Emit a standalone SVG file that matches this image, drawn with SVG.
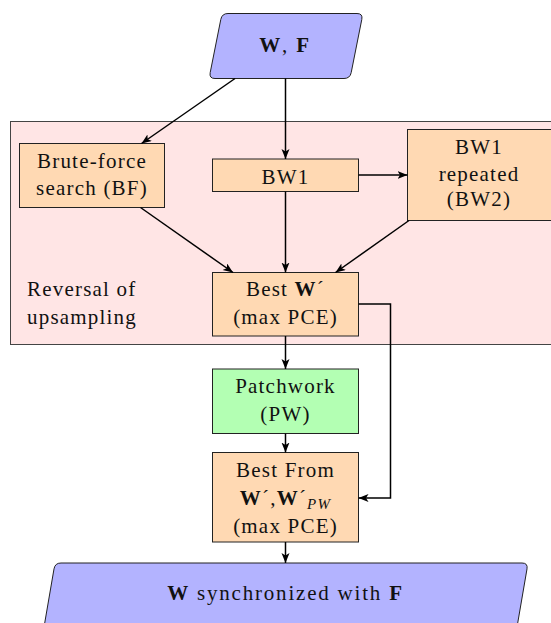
<svg xmlns="http://www.w3.org/2000/svg" width="551" height="623" viewBox="0 0 551 623">
<defs>
<marker id="arr" markerUnits="userSpaceOnUse" markerWidth="11" markerHeight="9" refX="10" refY="4" orient="auto">
<path d="M0,0 L10,4 L0,8 L2.5,4 z" fill="#000"/>
</marker>
<style>
text{font-family:'Liberation Serif','DejaVu Serif',serif;font-size:21px;letter-spacing:1.2px;fill:#111}
.c{text-anchor:middle}
.b{font-weight:bold}
.box{fill:#ffd9b3;stroke:#222;stroke-width:1}
.io{fill:#b3b3ff;stroke:#222;stroke-width:1}
.pw{fill:#b3ffb3;stroke:#222;stroke-width:1}
.ln{fill:none;stroke:#000;stroke-width:1.5}
.ar{marker-end:url(#arr)}
</style>
</defs>
<rect width="551" height="623" fill="#fff"/>
<g id="region">
<rect x="10.5" y="121.5" width="560" height="223" fill="#ffe5e5" stroke="#444" stroke-width="1"/>
<text x="27" y="296">Reversal of</text>
<text x="27" y="324">upsampling</text>
</g>
<g id="input">
<path class="io" d="M 228,13.5 L 357,13.5 Q 363,13.5 361.8,19.4 L 351.2,72.6 Q 350,78.5 344,78.5 L 215,78.5 Q 209,78.5 210.2,72.6 L 220.8,19.4 Q 222,13.5 228,13.5 Z"/>
<text class="c" x="285" y="52" style="letter-spacing:1.8px"><tspan class="b">W</tspan>, <tspan class="b">F</tspan></text>
</g>
<g id="bf">
<rect class="box" x="19.5" y="143.5" width="145" height="64"/>
<text class="c" x="92" y="168">Brute-force</text>
<text class="c" x="92" y="194.5">search (BF)</text>
</g>
<g id="bw1">
<rect class="box" x="212.5" y="159" width="146" height="32.5"/>
<text class="c" x="285.5" y="183.5">BW1</text>
</g>
<g id="bw2">
<rect class="box" x="407.5" y="129.5" width="150" height="91"/>
<text class="c" x="479" y="153.5">BW1</text>
<text class="c" x="479" y="180.5">repeated</text>
<text class="c" x="479" y="206">(BW2)</text>
</g>
<g id="best">
<rect class="box" x="212.5" y="272.5" width="146" height="63.5"/>
<text class="c" x="285.5" y="296">Best <tspan class="b">W</tspan>´</text>
<text class="c" x="285.5" y="324">(max PCE)</text>
</g>
<g id="patchwork">
<rect class="pw" x="212.5" y="369" width="146" height="64.5"/>
<text class="c" x="285.5" y="392.5">Patchwork</text>
<text class="c" x="285.5" y="421">(PW)</text>
</g>
<g id="bestfrom">
<rect class="box" x="212.5" y="452.5" width="146" height="89.5"/>
<text class="c" x="285.5" y="477">Best From</text>
<text class="c" x="285.5" y="505"><tspan class="b">W</tspan>´,<tspan class="b">W</tspan>´<tspan font-style="italic" font-size="15" dy="4">PW</tspan></text>
<text class="c" x="285.5" y="533">(max PCE)</text>
</g>
<g id="output">
<path class="io" d="M 61,563 L 522,563 Q 528,563 527,568.9 L 516,633 L 43,633 L 54,568.9 Q 55,563 61,563 Z"/>
<text class="c" x="285.5" y="600" style="letter-spacing:1.8px"><tspan class="b">W</tspan> synchronized with <tspan class="b">F</tspan></text>
</g>
<g id="connectors">
<line class="ln ar" x1="235" y1="78.5" x2="141.5" y2="143.5"/>
<line class="ln ar" x1="285.5" y1="78.5" x2="285.5" y2="159"/>
<line class="ln ar" x1="358.5" y1="175" x2="407.5" y2="175"/>
<line class="ln ar" x1="140.5" y1="207.5" x2="233" y2="272.5"/>
<line class="ln ar" x1="285.5" y1="191.5" x2="285.5" y2="272.5"/>
<line class="ln ar" x1="409" y1="220.5" x2="335.5" y2="272.5"/>
<polyline class="ln ar" points="358.5,304 390.5,304 390.5,498 358.5,498"/>
<line class="ln ar" x1="285.5" y1="336" x2="285.5" y2="369"/>
<line class="ln ar" x1="285.5" y1="433.5" x2="285.5" y2="452.5"/>
<line class="ln ar" x1="285.5" y1="542" x2="285.5" y2="563"/>
</g>
</svg>
